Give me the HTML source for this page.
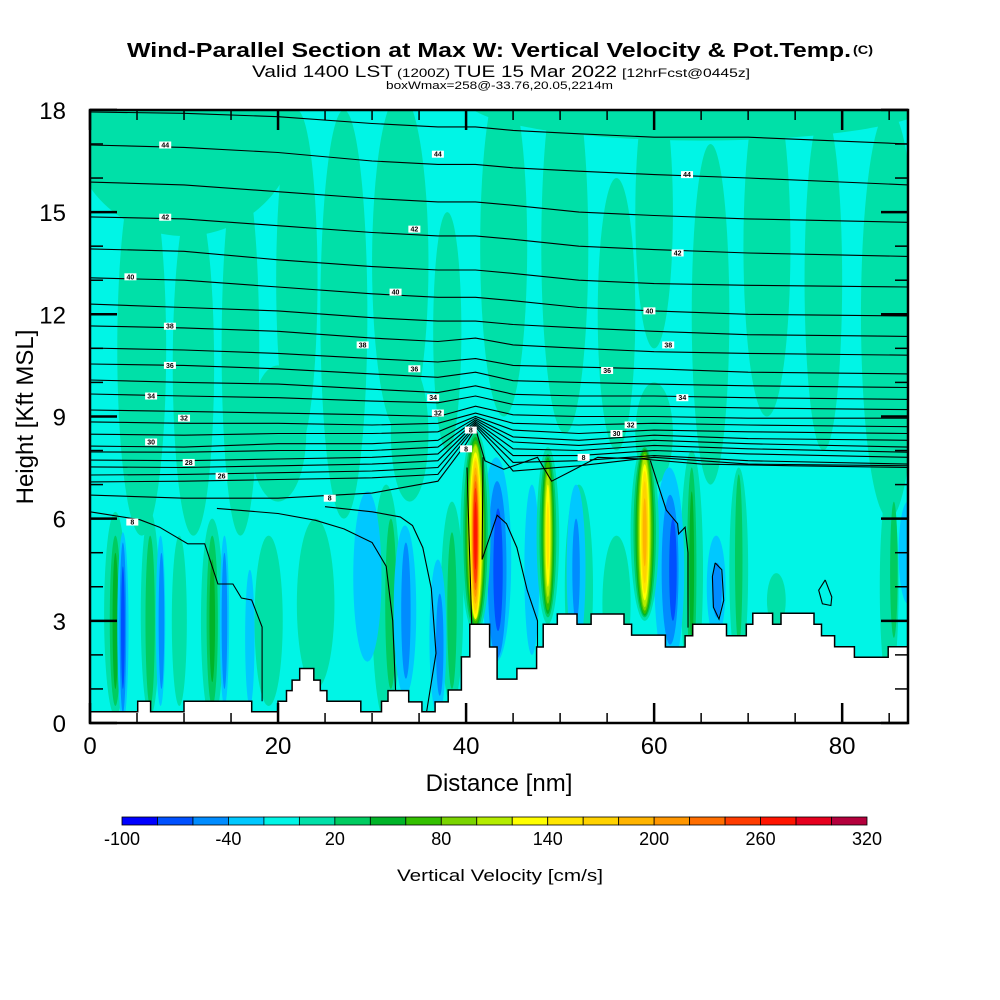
<!DOCTYPE html>
<html><head><meta charset="utf-8"><style>
html,body{margin:0;padding:0;background:#fff;}
svg{display:block;font-family:"Liberation Sans",Arial,sans-serif;}
</style></head><body>
<svg id="chart" width="1000" height="1000" viewBox="0 0 1000 1000" xmlns="http://www.w3.org/2000/svg">
<defs><clipPath id="plotclip"><rect x="90" y="110" width="818" height="613"/></clipPath></defs>
<g>
<text x="127" y="57" font-size="20" font-weight="bold" textLength="724" lengthAdjust="spacingAndGlyphs">Wind-Parallel Section at Max W: Vertical Velocity &amp; Pot.Temp.</text>
<text x="853" y="54" font-size="12" font-weight="bold" textLength="20" lengthAdjust="spacingAndGlyphs">(C)</text>
<text y="77" font-size="17"><tspan x="252" textLength="141" lengthAdjust="spacingAndGlyphs">Valid 1400 LST</tspan><tspan x="397" font-size="12" textLength="53" lengthAdjust="spacingAndGlyphs">(1200Z)</tspan><tspan x="454" textLength="163" lengthAdjust="spacingAndGlyphs">TUE 15 Mar 2022</tspan><tspan x="622" font-size="12" textLength="128" lengthAdjust="spacingAndGlyphs">[12hrFcst@0445z]</tspan></text>
<text x="386" y="89" font-size="11" textLength="227" lengthAdjust="spacingAndGlyphs">boxWmax=258@-33.76,20.05,2214m</text>
</g>
<g id="field" clip-path="url(#plotclip)"></g>
<g id="isen" clip-path="url(#plotclip)"></g>
<g id="terrain"></g>
<g id="clabels"></g>
<rect x="90" y="110" width="818" height="613" fill="none" stroke="#000" stroke-width="2.5"/>
<g id="axes"></g>
<text x="499" y="791" font-size="24" text-anchor="middle">Distance [nm]</text>
<text x="0" y="0" font-size="24" text-anchor="middle" transform="translate(33,417) rotate(-90)">Height [Kft MSL]</text>
<g id="cbar"></g>
<text x="500" y="881" font-size="17" text-anchor="middle" textLength="206" lengthAdjust="spacingAndGlyphs">Vertical Velocity [cm/s]</text>
</svg>
<script>
const NS="http://www.w3.org/2000/svg";
const levelColors=["#0000ff","#0050ff","#008cff","#00c8ff","#00f5e6","#00e0a8","#00cc60","#00b428","#33c000","#7ad400","#b4ec00","#ffff00","#ffe600","#ffd200","#ffb400","#ff9600","#ff6e00","#ff3c00","#ff1400","#e6001e","#b4003c"];
const levelTicks=["-100","-40","20","80","140","200","260","320"];
const xTicks=[0,20,40,60,80];
const yTicks=[0,3,6,9,12,15,18];
// velocity blobs: center nm, center kft, half-width nm, half-height kft, level index
const blobCx=[10,5.5,11,16,22,27,33,38,44,50.5,56,60,66,72,78,85,65,20,34,60,
 2.7,6.4,13,9.5,19,24,31.5,38.5,52,56,64,69,85,73,
 2.7,6.4,13,32,38.5,64,69,85.5, 2.7,13,64,
 3.5,7.5,14.3,17,29.5,33.5,37,43.2,47,51.7,61.6,66.6,87,
 3.5,7.6,14.3,33.6,37.2,43.3,51.7,61.7,66.7, 3.5,43.4,62,
 41,41,41,41,41,41,41,41,41,41,41,41,41,41,
 48.7,48.7,48.7,48.7,48.7,48.7,48.7,48.7,
 59,59,59,59,59,59,59,59,59,59];
const blobCy=[17.5,11,10.5,11,13,12,13.5,11.5,14,14,12,15,12,14,13,12,18.3,8.5,8.5,8.5,
 3.2,3.2,3,3,3,3.5,3.5,3.5,4,3.5,4.5,4.5,4,3.6,
 3,3,3,3.5,3.3,4.5,4.8,4.5, 3,3,4.6,
 2.8,3,3,2.5,4.3,3.3,2.5,4.8,4.5,4.5,4.5,4,5,
 2.8,3,3,3.3,2.3,4.5,4.5,4.5,3.9, 2.8,4.5,4.5,
 5.6,5.6,5.6,5.6,5.6,5.6,5.5,5.5,5.5,5.5,5.5,5.5,5.5,5.5,
 5.5,5.5,5.5,5.5,5.5,5.5,5.5,5.5,
 5.6,5.6,5.6,5.6,5.6,5.6,5.6,5.6,5.6,5.6];
const blobRx=[12,2.6,2.2,2,2.2,2.5,3,1.5,2.5,2.5,2,2,2,2.5,2,3,25,3,2,2,
 1.2,1,1.2,0.8,1.5,2,1.5,1.2,1.5,1.5,1.2,1,1,1,
 0.6,0.5,0.6,0.6,0.5,0.5,0.4,0.4, 0.3,0.3,0.25,
 0.6,0.5,0.5,0.5,1.5,1.2,0.9,1.6,0.8,1,1.6,1,1,
 0.35,0.3,0.3,0.5,0.4,1.0,0.4,0.9,0.5, 0.2,0.5,0.4,
 1.6,1.3,1.1,0.95,0.85,0.75,0.65,0.55,0.48,0.4,0.35,0.3,0.25,0.15,
 1.2,0.9,0.7,0.55,0.45,0.35,0.25,0.15,
 1.5,1.2,1.0,0.85,0.7,0.6,0.5,0.4,0.3,0.2];
const blobRy=[3.2,5.5,5,5.5,5,6,5,3.5,5,5.5,4,4,5,5,5,6,1.2,2,2,1.5,
 3,3,3,2.5,2.5,2.5,3.5,3,3,2,3.5,3,3,0.8,
 2.5,2.5,2.5,2.5,2.3,3,2.5,2, 2,1.8,2.2,
 2.8,2.5,2.5,2,2.5,2.5,2.3,3,2.5,2.5,3,1.5,1.5,
 2.5,2,2,2,1.5,2.6,1.5,2.2,0.8, 1.8,1.8,1.5,
 3.0,2.9,2.8,2.7,2.6,2.55,2.45,2.3,2.2,2.0,1.8,1.6,1.4,1.0,
 2.6,2.4,2.3,2.2,2.0,1.8,1.5,1.0,
 2.6,2.5,2.45,2.4,2.3,2.2,2.0,1.8,1.5,1.0];
const blobLvl=[5,5,5,5,5,5,5,5,5,5,5,5,5,5,5,5,5,5,5,5,
 5,5,5,5,5,5,5,5,5,5,5,5,5,5,
 6,6,6,6,6,6,6,6, 7,7,7,
 3,3,3,3,3,3,3,3,3,3,3,3,3,
 2,2,2,2,2,2,2,2,2, 1,1,1,
 5,6,7,8,9,10,11,12,13,14,15,16,17,18,
 5,6,7,8,9,10,11,12,
 5,6,7,8,9,10,11,12,13,14];
// terrain: segment start distance (nm) and height (kft)
const terrainX=[0,5.07,6.45,10.0,17.2,20.0,20.9,21.5,22.3,23.8,24.5,25.2,28.8,31.0,31.7,33.9,35.3,36.7,38.1,39.5,40.4,42.5,43.3,45.4,47.5,48.2,49.7,51.8,53.3,56.8,57.6,61.2,63.3,64.1,67.7,69.8,70.5,72.6,73.5,77.0,77.8,79.2,81.3,84.9];
const terrainH=[0.33,0.64,0.33,0.64,0.33,0.64,0.95,1.26,1.6,1.26,0.95,0.64,0.33,0.64,0.95,0.62,0.33,0.62,0.97,1.94,2.9,2.23,1.29,1.6,2.23,2.9,3.2,2.9,3.2,2.9,2.58,2.23,2.56,2.9,2.56,2.9,3.22,2.9,3.22,2.9,2.56,2.24,1.93,2.24];
// isentropes on shared distance nodes (kft)
const isenNodes=[0,10,20,30,37,41,45,52,60,70,87];
const isenHeights=[
[17.94,17.9,17.8,17.6,17.5,17.5,17.4,17.3,17.2,17.2,17.0],
[16.97,16.9,16.75,16.5,16.4,16.4,16.3,16.2,16.1,16.0,15.8],
[15.88,15.8,15.6,15.4,15.3,15.3,15.2,15.0,14.9,14.8,14.7],
[14.86,14.8,14.6,14.4,14.3,14.3,14.2,14.0,13.9,13.8,13.7],
[13.92,13.85,13.6,13.4,13.3,13.3,13.2,13.0,12.9,12.85,12.8],
[13.07,13.0,12.8,12.6,12.5,12.5,12.4,12.2,12.1,12.0,11.95],
[12.30,12.2,12.1,11.9,11.8,11.8,11.7,11.6,11.5,11.4,11.35],
[11.66,11.6,11.5,11.3,11.2,11.3,11.1,11.0,10.9,10.85,10.8],
[11.01,10.95,10.85,10.7,10.6,10.7,10.5,10.45,10.4,10.3,10.25],
[10.54,10.5,10.4,10.25,10.15,10.3,10.05,10.0,9.95,9.9,9.85],
[10.07,10.0,9.95,9.8,9.7,9.9,9.65,9.6,9.6,9.55,9.5],
[9.66,9.6,9.55,9.45,9.4,9.6,9.35,9.3,9.3,9.25,9.2],
[9.19,9.15,9.1,9.05,9.0,9.3,9.05,9.0,9.0,8.95,8.95],
[8.84,8.8,8.8,8.75,8.8,9.1,8.8,8.75,8.8,8.75,8.7],
[8.48,8.45,8.5,8.5,8.55,9.0,8.6,8.5,8.6,8.55,8.5],
[8.13,8.1,8.2,8.2,8.3,8.95,8.4,8.3,8.45,8.35,8.3],
[7.96,7.95,8.0,8.0,8.1,8.9,8.25,8.15,8.3,8.2,8.1],
[7.72,7.7,7.75,7.8,7.9,8.85,8.05,8.0,8.15,8.05,7.95],
[7.52,7.5,7.55,7.6,7.7,8.8,7.85,7.85,8.0,7.9,7.8],
[7.28,7.3,7.35,7.4,7.5,8.75,7.65,7.7,7.85,7.7,7.6],
[7.08,7.1,7.15,7.2,7.3,8.7,7.4,7.55,7.8,7.6,7.55]];
// free-form isentrope segments: [nm, kft] pairs
const isenLow=[
[[0,6.69],[10,6.6],[20,6.6],[30,6.75],[37,7.1],[40,8.2],[41,8.65],[42,7.7],[44,7.45],[47.6,7.8],[49.1,7.1],[51.2,7.4],[54,7.8],[58.7,7.75],[65,7.6],[75,7.55],[87,7.5]],
[[0,6.2],[5.3,5.97],[7.4,5.75],[10.4,5.26],[12.2,5.26],[13.6,4.08],[15.2,4.08],[16.1,3.67],[17.2,3.61],[18.3,2.82],[18.3,0.64]],
[[13.5,6.3],[20,6.15],[24,5.95],[27,5.7],[30,5.3],[31.5,4.6],[32.2,3.0],[32.5,0.95]],
[[25,6.35],[30,6.2],[33,6.05],[34.3,5.8],[35.4,5.15],[36.3,3.95],[36.8,2.05],[35.8,0.33]],
[[40.1,7.5],[40.6,2.9]],
[[41.8,7.8],[41.7,4.8],[43.3,6.1],[44.3,5.85],[45.4,5.15],[46.5,3.9],[47.6,3.0],[47.6,2.23]],
[[59.6,7.7],[60.3,7.1],[61.3,6.25],[62.5,5.85],[62.6,5.55],[63.3,5.75],[63.6,5.0],[63.6,2.8]],
[[66.5,4.7],[67.2,4.5],[67.4,3.6],[66.9,3.05],[66.3,3.4],[66.2,4.3],[66.5,4.7]],
[[78.2,4.2],[78.9,3.7],[78.8,3.45],[77.9,3.5],[77.5,3.9],[78.2,4.2]]];
const labelX=[8,37,63.5,8,34.5,62.5,4.3,32.5,59.5,8.5,29,61.5,8.5,34.5,55,6.5,36.5,63,10,37,57.5,6.5,10.5,25.5,14,4.5,52.5,56,40.5,40];
const labelY=[16.97,16.7,16.1,14.85,14.5,13.8,13.1,12.65,12.1,11.65,11.1,11.1,10.5,10.4,10.35,9.6,9.55,9.55,8.95,9.1,8.75,8.25,7.65,6.6,7.25,5.9,7.8,8.5,8.6,8.05];
const labelTxt=["44","44","44","42","42","42","40","40","40","38","38","38","36","36","36","34","34","34","32","32","32","30","28","8","26","8","8","30","8","8"];

const X=nm=>90+nm*9.402;
const Y=k=>723-k*34.06;
function mk(tag,attrs,parent){const e=document.createElementNS(NS,tag);for(const k in attrs)e.setAttribute(k,attrs[k]);parent.appendChild(e);return e;}

const field=document.getElementById('field');
const bg=mk('rect',{x:90,y:110,width:818,height:613,fill:levelColors[4]},field);


for(let i=0;i<blobCx.length;i++){
  const e=mk('ellipse',{cx:X(blobCx[i]),cy:Y(blobCy[i]),rx:blobRx[i]*9.402,ry:blobRy[i]*34.06,fill:levelColors[blobLvl[i]]},field);
  
  
}
const isen=document.getElementById('isen');
function poly(pts,parent,name){
  const e=mk('polyline',{points:pts.map(p=>X(p[0]).toFixed(1)+','+Y(p[1]).toFixed(1)).join(' '),fill:'none',stroke:'#000','stroke-width':1.1},parent);
  
  
}
isenHeights.forEach(h=>poly(isenNodes.map((n,j)=>[n,h[j]]),isen,'isentrope'));
isenLow.forEach(s=>poly(s,isen,'isentrope'));

const ter=document.getElementById('terrain');
let tp=[[0,0]];
for(let i=0;i<terrainX.length;i++){const x1=i+1<terrainX.length?terrainX[i+1]:87;tp.push([terrainX[i],terrainH[i]]);tp.push([x1,terrainH[i]]);}
tp.push([87,0]);
const tpoly=mk('polygon',{points:tp.map(p=>X(p[0]).toFixed(1)+','+Y(p[1]).toFixed(1)).join(' '),fill:'#fff',stroke:'#000','stroke-width':1.5},ter);



const cl=document.getElementById('clabels');
for(let i=0;i<labelX.length;i++){
  const g=mk('g',{},cl);
  
  
  mk('rect',{x:X(labelX[i])-6,y:Y(labelY[i])-3.5,width:12,height:7,fill:'#fff'},g);
  const t=mk('text',{x:X(labelX[i]),y:Y(labelY[i])+2.5,'font-size':7,'font-weight':'bold','text-anchor':'middle'},g);
  t.textContent=labelTxt[i];
}

const ax=document.getElementById('axes');
for(let n=0;n<=85;n+=5){
  const major=n%20===0, L=major?20:10;
  const b=mk('line',{x1:X(n),x2:X(n),y1:723,y2:723-L,stroke:'#000','stroke-width':major?2.5:1.5},ax);
  
  
  const t=mk('line',{x1:X(n),x2:X(n),y1:110,y2:110+L,stroke:'#000','stroke-width':major?2.5:1.5},ax);
  
  
}
for(let k=0;k<=18;k++){
  const major=k%3===0, L=major?27:13;
  const l=mk('line',{x1:90,x2:90+L,y1:Y(k),y2:Y(k),stroke:'#000','stroke-width':major?2.5:1.5},ax);
  
  
  const r=mk('line',{x1:908,x2:908-L,y1:Y(k),y2:Y(k),stroke:'#000','stroke-width':major?2.5:1.5},ax);
  
  
}
xTicks.forEach(v=>{
  const t=mk('text',{x:X(v),y:754,'font-size':24,'text-anchor':'middle'},ax);
  
  
  t.textContent=String(v);
});
yTicks.forEach(v=>{
  const t=mk('text',{x:66,y:Y(v)+9,'font-size':24,'text-anchor':'end'},ax);
  
  
  t.textContent=String(v);
});

const cb=document.getElementById('cbar');
const cbx=122,cbw=745/levelColors.length;
levelColors.forEach((c,i)=>{
  const r=mk('rect',{x:cbx+i*cbw,y:817,width:cbw,height:8,fill:c,stroke:'#000','stroke-width':0.8},cb);
  
  
});
levelTicks.forEach((s,i)=>{
  const t=mk('text',{x:cbx+i*3*cbw,y:845,'font-size':18,'text-anchor':'middle'},cb);
  
  
  t.textContent=s;
});
</script>
</body></html>
